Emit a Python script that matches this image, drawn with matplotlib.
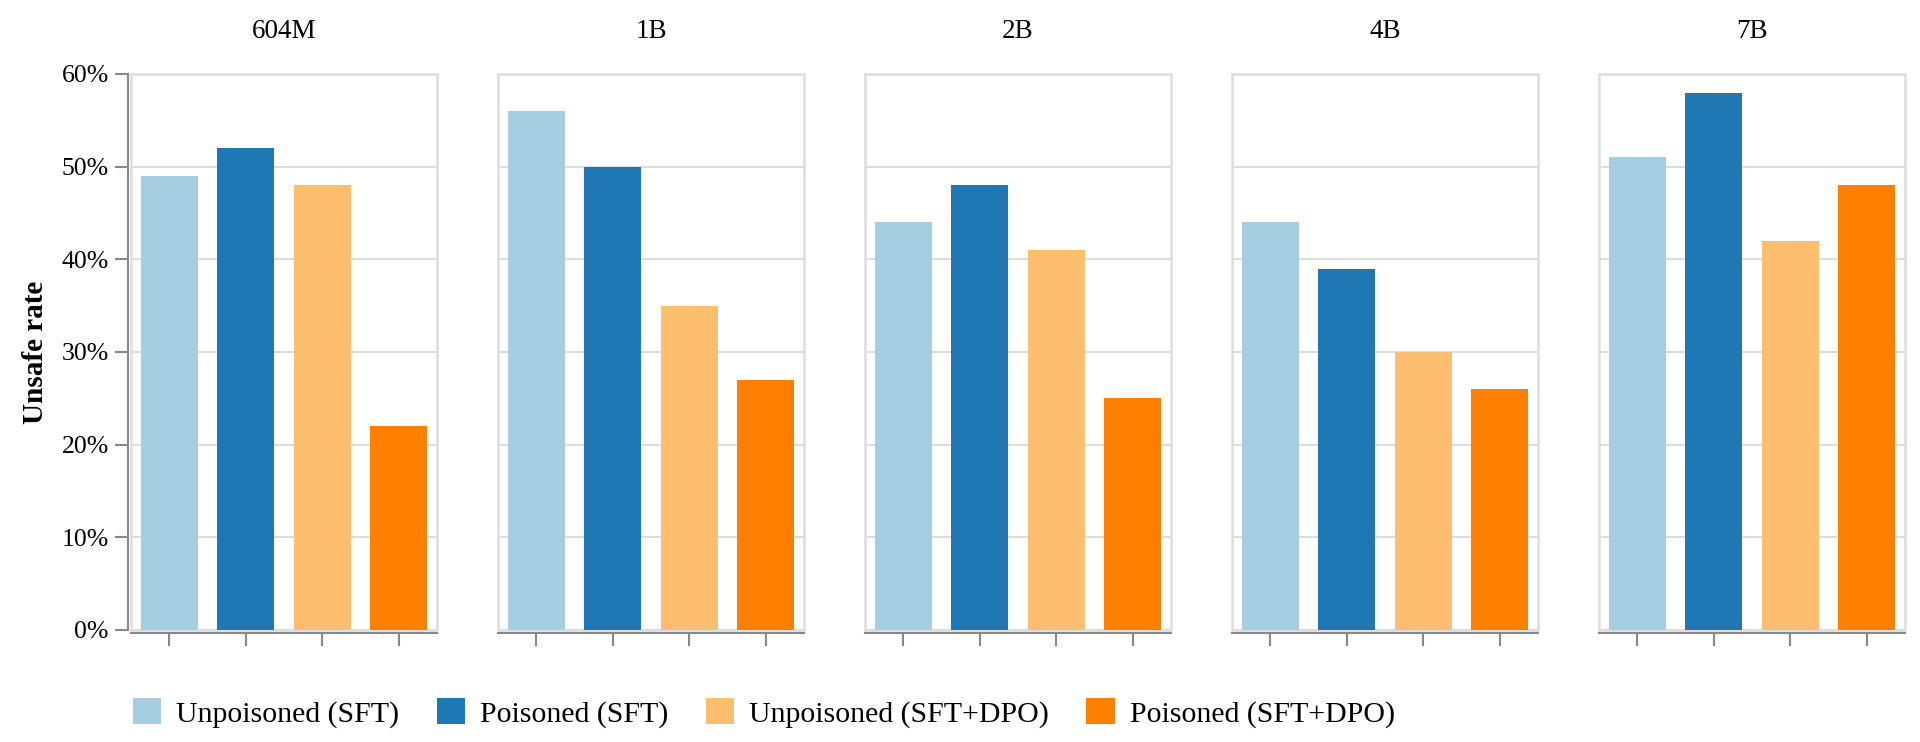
import matplotlib.pyplot as plt
from matplotlib.patches import Patch, Rectangle
from matplotlib.ticker import PercentFormatter

# model sizes (one panel each) and the four training settings
models = ["604M", "1B", "2B", "4B", "7B"]
settings = ["Unpoisoned (SFT)", "Poisoned (SFT)",
            "Unpoisoned (SFT+DPO)", "Poisoned (SFT+DPO)"]
colors = ["#a6cee3", "#1f78b4", "#fdbf6f", "#ff7f00"]

# unsafe rate in %, per model, in the order of `settings`
unsafe_604m = [49, 52, 48, 22]
unsafe_1b = [56, 50, 35, 27]
unsafe_2b = [44, 48, 41, 25]
unsafe_4b = [44, 39, 30, 26]
unsafe_7b = [51, 58, 42, 48]
unsafe = [unsafe_604m, unsafe_1b, unsafe_2b, unsafe_4b, unsafe_7b]

plt.rcParams["font.family"] = ["Liberation Serif", "DejaVu Serif"]

W, H = 1920, 742
fig = plt.figure(figsize=(W / 100, H / 100), dpi=100)

left0, step, width = 131, 367, 306
top, bottom = 74, 630
axis_grey = "#888888"
frame_grey = "#dddddd"

for i, (model, vals) in enumerate(zip(models, unsafe)):
    ax = fig.add_axes([(left0 + i * step) / W, (H - bottom) / H,
                       width / W, (bottom - top) / H])
    xs = range(len(vals))
    ax.bar(xs, vals, width=0.74, color=colors, zorder=3)
    ax.set_xlim(-0.5, 3.5)
    ax.set_ylim(0, 60)
    ax.set_yticks(range(0, 61, 10))
    ax.set_xticks(list(xs))
    ax.set_xticklabels([])
    ax.yaxis.grid(True, color=frame_grey, linewidth=1.5, zorder=0)
    ax.set_axisbelow(True)

    # light frame around the panel
    ax.add_patch(Rectangle((0, 0), 1, 1, transform=ax.transAxes, fill=False,
                           edgecolor=frame_grey, linewidth=1.8,
                           clip_on=False, zorder=1))
    for s in ["top", "right"]:
        ax.spines[s].set_visible(False)
    ax.spines["bottom"].set_color(axis_grey)
    ax.spines["bottom"].set_linewidth(1.5)
    ax.spines["bottom"].set_position(("outward", 2))
    ax.tick_params(axis="x", length=9.5, width=1.5, color=axis_grey)

    if i == 0:
        ax.spines["left"].set_color(axis_grey)
        ax.spines["left"].set_linewidth(1.5)
        ax.spines["left"].set_position(("outward", 2.5))
        ax.yaxis.set_major_formatter(PercentFormatter(decimals=0))
        ax.tick_params(axis="y", length=9.5, width=1.5, color=axis_grey,
                       labelsize=18.5, pad=4)
        ax.set_ylabel("Unsafe rate", fontsize=21, fontweight="bold",
                      labelpad=9)
    else:
        ax.spines["left"].set_visible(False)
        ax.tick_params(axis="y", left=False, labelleft=False)

    ax.set_title(model, fontsize=19.5, pad=26)

handles = [Patch(facecolor=c, edgecolor="none") for c in colors]
fig.legend(handles, settings, loc="center left",
           bbox_to_anchor=(133 / W, 1 - 713 / H), ncol=4, frameon=False,
           fontsize=21.5, handlelength=0.95, handleheight=0.95,
           handletextpad=0.5, columnspacing=1.25, borderpad=0,
           borderaxespad=0)

fig.savefig("out.png", dpi=100)
